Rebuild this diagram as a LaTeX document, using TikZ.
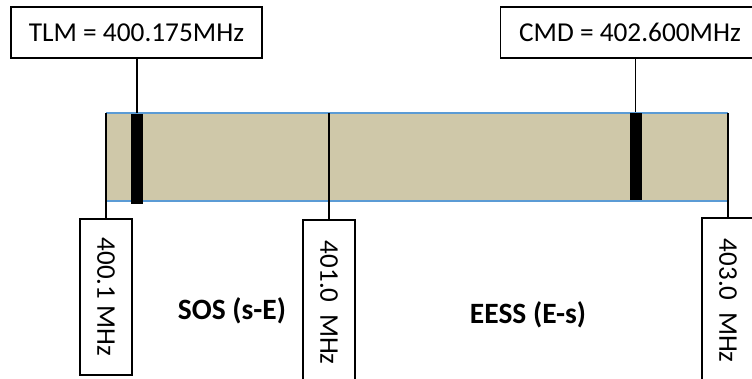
\documentclass[tikz,border=0pt]{standalone}
\usepackage{fontspec}
\setmainfont{Carlito}

\definecolor{bandfill}{RGB}{207,200,169}
\definecolor{bandline}{RGB}{91,155,213}

\begin{document}
\begin{tikzpicture}[x=1pt, y=-1pt, line width=1.6pt,
	chanbox/.style={draw, fill=white, minimum height=51pt, inner sep=0pt, font=\fontsize{27.3}{31}\selectfont},
	freqbox/.style={draw, fill=white, rotate=-90, anchor=west, minimum height=52pt, inner sep=0pt, font=\fontsize{27}{31}\selectfont},
	chanbar/.style={fill=black, minimum width=12pt, inner sep=0pt, anchor=north},
	bandtext/.style={font=\fontsize{29.5}{34}\selectfont\bfseries}]

	\useasboundingbox (0, 0) rectangle (752, 379);
	\clip (0, 0) rectangle (752, 379);

	\fill[bandfill] (106, 113) rectangle (728, 201); % Полоса частот
	\draw[bandline] (106, 113) -- (728, 113);
	\draw[bandline] (106, 201) -- (728, 201);

	\coordinate (b1) at (106, 113);
	\coordinate (b2) at (329, 113);
	\coordinate (b3) at (728, 113);

	% Границы полосы
	\node[freqbox, minimum width=156pt] (f1) at (106, 218) {400.1 MHz};
	\node[freqbox, minimum width=166pt] (f2) at (329, 219) {401.0\hspace{0.2em} MHz};
	\node[freqbox, minimum width=166pt] (f3) at (728, 217) {403.0\hspace{0.2em} MHz};

	\draw (b1) -- (f1.west);
	\draw (b2) -- (f2.west);
	\draw (b3) -- (f3.west);

	% Каналы
	\node[chanbar, minimum height=90pt] (tlmbar) at (137, 113) {};
	\node[chanbar, minimum height=87pt] (cmdbar) at (635.5, 112) {};

	\node[chanbox, minimum width=251pt] (tlm) at (136.5, 32.5) {TLM = 400.175MHz};
	\node[chanbox, minimum width=259pt] (cmd) at (630, 32.5) {CMD = 402.600MHz};

	\draw (tlmbar.north) -- (tlmbar.north |- tlm.south);
	\draw (cmdbar.north) -- (cmdbar.north |- cmd.south);

	\node[bandtext] (sos) at (232, 311) {SOS (s-E)};
	\node[bandtext] (eess) at (528, 315) {EESS (E-s)};
\end{tikzpicture}
\end{document}
